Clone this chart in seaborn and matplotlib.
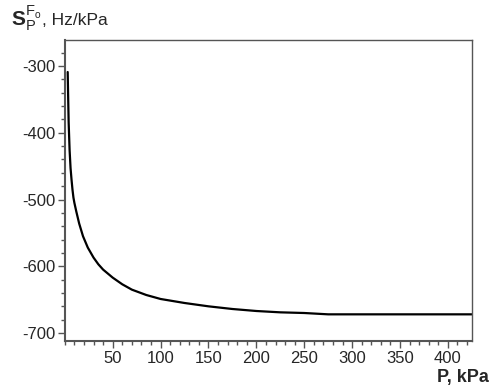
import numpy as np
import pandas as pd
import matplotlib
matplotlib.use("Agg")
import matplotlib.pyplot as plt
import seaborn as sns
from matplotlib.ticker import MultipleLocator

# pressure (kPa) and sensitivity (Hz/kPa)
pressure = [3, 4, 5, 6, 7, 8, 9, 10, 12, 15, 19, 24, 30, 35, 40, 45, 50, 60, 70, 85,
            100, 125, 150, 175, 200, 225, 250, 275, 300, 350, 400, 425]
sensitivity = [-309, -384, -426, -453, -470, -485, -497, -505, -518, -536, -555,
               -572, -587, -597, -605, -611, -617, -627, -635, -643, -649, -655,
               -660, -664, -667, -669, -670, -672, -672, -672, -672, -672]

x_ticks = [50, 100, 150, 200, 250, 300, 350, 400]
y_ticks = [-700, -600, -500, -400, -300]

df = pd.DataFrame({"P": pressure, "S": sensitivity})

sns.set_theme(style="ticks")
plt.rcParams['font.family'] = ['Liberation Sans', 'DejaVu Sans']
plt.rcParams['mathtext.fontset'] = 'custom'
plt.rcParams['mathtext.rm'] = 'Liberation Sans'
plt.rcParams['mathtext.it'] = 'Liberation Sans'
plt.rcParams['mathtext.bf'] = 'Liberation Sans:bold'
plt.rcParams['axes.unicode_minus'] = False

fig = plt.figure(figsize=(4.91, 3.92), dpi=100)
ax = fig.add_axes([0.132, 0.130, 0.829, 0.768])

sns.lineplot(data=df, x="P", y="S", ax=ax, color="black", linewidth=1.6)

ax.set_xlim(0, 425)
ax.set_ylim(-712, -261)
ax.set_xticks(x_ticks)
ax.set_yticks(y_ticks)
ax.set_yticklabels([f"-{abs(v)}" for v in y_ticks])
ax.xaxis.set_minor_locator(MultipleLocator(10))
ax.yaxis.set_minor_locator(MultipleLocator(20))
ax.tick_params(axis="both", which="major", labelsize=12, length=5, width=1, color="#555555", pad=2)
ax.tick_params(axis="both", which="minor", length=3, width=1, color="#555555")
for side in ["top", "right"]:
    ax.spines[side].set_visible(True)
    ax.spines[side].set_color("#555555")
    ax.spines[side].set_linewidth(1)
for side in ["left", "bottom"]:
    ax.spines[side].set_color("#555555")
    ax.spines[side].set_linewidth(1.5)
ax.set_xlabel("")
ax.set_ylabel("")

fig.text(0.022, 0.935, r"$\mathbf{S}_{P}^{F_o}$", fontsize=15, ha="left", va="baseline")
fig.text(0.085, 0.935, ", Hz/kPa", fontsize=12.5, ha="left", va="baseline")
fig.text(0.995, 0.025, "P, kPa", fontsize=13, fontweight="bold", ha="right", va="baseline")

fig.savefig("out.png", dpi=100)
